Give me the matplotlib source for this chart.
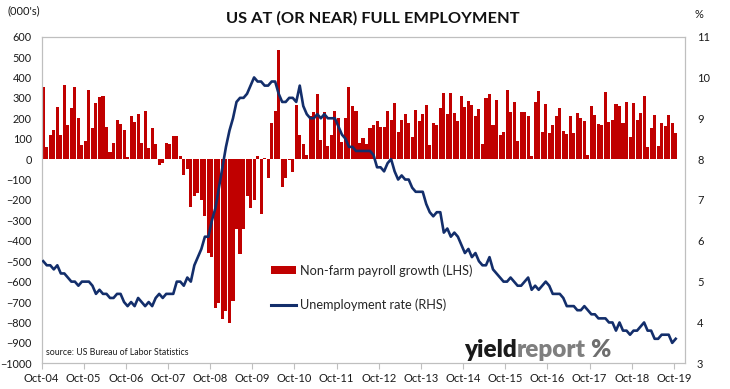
import matplotlib
matplotlib.use("Agg")
import matplotlib.pyplot as plt
from matplotlib.ticker import MultipleLocator
from matplotlib.patches import Patch
from matplotlib.lines import Line2D

plt.rcParams['font.family'] = ['Lato', 'DejaVu Sans']

# ---- data (monthly, Oct-2004 .. Oct-2019) ----
payrolls = [
    354, 59, 120, 145, 257, 120, 364, 169, 252, 354, 203, 67, 91, 340, 154, 276,
    306, 311, 159, 37, 81, 193, 174, 145, 8, 213, 184, 223, 81, 237, 52, 150,
    76, -29, -20, 81, 76, 111, 111, 13, -80, -49, -236, -182, -167, -198, -280, -460,
    -480, -728, -704, -782, -743, -802, -694, -343, -463, -343, -182, -239, -198, 13, -270, 3,
    -94, 179, 237, 535, -138, -91, -6, -65, 267, 120, 72, 18, 213, 233, 320, 96,
    233, 62, 120, 237, 203, 86, 203, 354, 262, 237, 81, 101, 72, 154, 169, 189,
    159, 159, 237, 193, 276, 135, 193, 223, 179, 106, 242, 189, 223, 267, 67, 179,
    169, 252, 325, 223, 325, 228, 189, 311, 257, 286, 267, 213, 247, 76, 301, 320,
    169, 291, 120, 135, 340, 233, 281, 91, 233, 233, 213, 13, 281, 335, 135, 272,
    130, 169, 213, 252, 140, 125, 213, 130, 228, 203, 189, 18, 262, 218, 174, 169,
    330, 184, 193, 272, 262, 179, 281, 106, 276, 193, 228, 311, 57, 154, 218, 62,
    179, 164, 218, 179, 130,
]

unemployment = [
    5.5, 5.4, 5.4,
    5.3, 5.4, 5.2, 5.2, 5.1, 5.0, 5.0, 4.9, 5.0, 5.0, 5.0, 4.9,
    4.7, 4.8, 4.7, 4.7, 4.6, 4.6, 4.7, 4.7, 4.5, 4.4, 4.5, 4.4,
    4.6, 4.5, 4.4, 4.5, 4.4, 4.6, 4.7, 4.6, 4.7, 4.7, 4.7, 5.0,
    5.0, 4.9, 5.1, 5.0, 5.4, 5.6, 5.8, 6.1, 6.1, 6.5, 6.8, 7.3,
    7.8, 8.3, 8.7, 9.0, 9.4, 9.5, 9.5, 9.6, 9.8, 10.0, 9.9, 9.9,
    9.8, 9.8, 9.9, 9.9, 9.6, 9.4, 9.4, 9.5, 9.5, 9.4, 9.8, 9.3,
    9.1, 9.0, 9.0, 9.1, 9.0, 9.1, 9.0, 9.0, 9.0, 8.8, 8.6, 8.5,
    8.3, 8.3, 8.2, 8.2, 8.2, 8.2, 8.2, 8.1, 7.8, 7.8, 7.7, 7.9,
    8.0, 7.7, 7.5, 7.6, 7.5, 7.5, 7.3, 7.2, 7.2, 7.2, 6.9, 6.7,
    6.6, 6.7, 6.7, 6.2, 6.3, 6.1, 6.2, 6.1, 5.9, 5.7, 5.8, 5.6,
    5.7, 5.5, 5.4, 5.4, 5.6, 5.3, 5.2, 5.1, 5.0, 5.0, 5.1, 5.0,
    4.9, 4.9, 5.0, 5.1, 4.8, 4.9, 4.8, 4.9, 5.0, 4.9, 4.7, 4.7,
    4.7, 4.6, 4.4, 4.4, 4.4, 4.3, 4.3, 4.4, 4.3, 4.2, 4.2, 4.1,
    4.1, 4.1, 4.0, 4.0, 3.8, 4.0, 3.8, 3.8, 3.7, 3.8, 3.8, 3.9,
    4.0, 3.8, 3.8, 3.6, 3.6, 3.7, 3.7, 3.7, 3.5, 3.6,
]

year_labels = ['Oct-04', 'Oct-05', 'Oct-06', 'Oct-07', 'Oct-08', 'Oct-09', 'Oct-10',
               'Oct-11', 'Oct-12', 'Oct-13', 'Oct-14', 'Oct-15', 'Oct-16', 'Oct-17',
               'Oct-18', 'Oct-19']

title = 'US AT (OR NEAR) FULL EMPLOYMENT'
bar_label = 'Non-farm payroll growth (LHS)'
line_label = 'Unemployment rate (RHS)'

BAR = '#C00000'
LINE = '#132E6B'
SPINE = '#BFBFBF'
GRID = '#D9D9D9'
TXT = '#1A1A1A'

W, H = 730, 389
fig = plt.figure(figsize=(W / 100, H / 100), dpi=100)
ax1 = fig.add_axes([41.5 / W, 1 - 363.3 / H, (684.5 - 41.5) / W, (363.3 - 36.6) / H])

months = list(range(len(payrolls)))
ax1.bar(months, payrolls, width=0.87, color=BAR, zorder=2)
ax1.set_xlim(-0.5, 182.5)
ax1.set_ylim(-1000, 600)
ax1.yaxis.set_major_locator(MultipleLocator(100))
ax1.yaxis.set_minor_locator(MultipleLocator(200))
ax1.grid(which='minor', axis='y', color=GRID, linewidth=1.0, zorder=0)
ax1.set_axisbelow(True)
ax1.tick_params(axis='y', which='both', length=0, pad=7, labelsize=7.8, labelcolor=TXT)
ax1.set_xticks([12 * k - 0.5 for k in range(len(year_labels))])
ax1.set_xticklabels(year_labels)
ax1.tick_params(axis='x', length=4, color=SPINE, pad=3, labelsize=8, labelcolor=TXT)
for s in ax1.spines.values():
    s.set_color(SPINE)

ax2 = ax1.twinx()
ax2.plot(months[:len(unemployment)], unemployment, color=LINE, linewidth=1.9, zorder=3,
         solid_joinstyle='round')
ax2.set_ylim(3, 11)
ax2.yaxis.set_major_locator(MultipleLocator(1))
ax2.tick_params(axis='y', length=0, pad=9, labelsize=8, labelcolor=TXT)
for s in ax2.spines.values():
    s.set_color(SPINE)

fig.text(373 / W, 1 - 18.5 / H, title, ha='center', va='center', fontsize=11.8,
         fontweight='bold', color='#111111')
fig.text(24 / W, 1 - 10.5 / H, "(000's)", ha='center', va='center', fontsize=8, color=TXT)
fig.text(699 / W, 1 - 14 / H, '%', ha='center', va='center', fontsize=8, color=TXT)

handles = [Patch(facecolor=BAR, edgecolor='none'),
           Line2D([0], [0], color=LINE, linewidth=2.2)]
fig.legend(handles, [bar_label, line_label], loc='upper left',
           bbox_to_anchor=(271 / W, 1 - 264 / H), frameon=False, fontsize=9.2,
           handlelength=1.95, handleheight=0.55, handletextpad=0.3, labelspacing=1.75,
           borderpad=0, borderaxespad=0, labelcolor='#262626')

fig.text(46 / W, 1 - 352.5 / H, 'source: US Bureau of Labor Statistics', ha='left',
         va='center', fontsize=6.3, color=TXT)

base_y = 1 - 357 / H
t1 = fig.text(464 / W, base_y, 'yield', ha='left', va='baseline', fontsize=17.5,
              fontweight='heavy', color='#1A1A1A')
fig.canvas.draw()
bb = t1.get_window_extent()
t2 = fig.text(bb.x1 / W, base_y, 'report', ha='left', va='baseline', fontsize=17.5,
              fontweight='heavy', color='#7F7F7F')
fig.canvas.draw()
bb2 = t2.get_window_extent()
fig.text((bb2.x1 + 4) / W, base_y, '%', ha='left', va='baseline', fontsize=17.5,
         fontweight='heavy', color='#6E6E6E')

fig.savefig('out.png', dpi=100)
